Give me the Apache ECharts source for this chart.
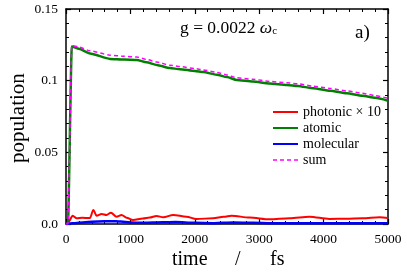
<!DOCTYPE html>
<html>
<head>
<meta charset="utf-8">
<script src="https://cdn.jsdelivr.net/npm/echarts@6/dist/echarts.min.js"></script>
<style>html,body{margin:0;padding:0;background:#fff}#c{width:407px;height:272px}</style>
</head>
<body>
<div id="c"></div>
<script>
// ---- data ----
var xTicks = [0, 1000, 2000, 3000, 4000, 5000];
var yTickLabels = ['0.0', '0.05', '0.1', '0.15'];
var seriesNames = ['photonic \u00d7 10', 'atomic', 'molecular', 'sum'];

var photonicT = [0, 40, 103, 166, 250, 372, 424, 475, 553, 630, 698, 785, 863, 940, 1040, 1195, 1300, 1405, 1510, 1665, 1870, 2025, 2285, 2450, 2570, 2850, 3160, 3470, 3780, 4090, 4350, 4600, 4870, 5000];
var photonicV = [0, 0.0015, 0.0058, 0.004, 0.0043, 0.0042, 0.0098, 0.0058, 0.007, 0.0063, 0.0079, 0.0051, 0.0063, 0.0044, 0.0028, 0.0038, 0.0045, 0.0056, 0.0047, 0.0063, 0.0051, 0.0035, 0.004, 0.005, 0.0058, 0.0045, 0.0033, 0.004, 0.0051, 0.0035, 0.0037, 0.004, 0.0047, 0.0042];

var atomicT = [0, 30, 90, 200, 372, 683, 900, 1100, 1250, 1410, 1613, 1770, 2000, 2130, 2340, 2500, 2650, 2900, 3160, 3430, 3600, 3840, 4100, 4360, 4600, 4800, 5000];
var atomicV = [0, 0.0, 0.1238, 0.1222, 0.119, 0.1152, 0.1148, 0.1145, 0.1128, 0.111, 0.1088, 0.108, 0.1068, 0.106, 0.1042, 0.1025, 0.1005, 0.0995, 0.098, 0.097, 0.0963, 0.0947, 0.093, 0.0912, 0.0895, 0.088, 0.086];

var molecularT = [0, 100, 300, 500, 700, 850, 1000, 1200, 1500, 1700, 2000, 2300, 2600, 2900, 3200, 3600, 4000, 4500, 5000];
var molecularV = [0, 0.0005, 0.0013, 0.0018, 0.002, 0.0017, 0.0011, 0.0008, 0.0012, 0.0014, 0.0008, 0.0006, 0.001, 0.0008, 0.0005, 0.0006, 0.0005, 0.0006, 0.0005];

var sumT = [0, 30, 90, 200, 372, 683, 900, 1100, 1250, 1410, 1613, 1770, 2000, 2130, 2340, 2500, 2650, 2900, 3160, 3430, 3600, 3840, 4100, 4360, 4600, 4800, 5000];
var sumV = [0, 0.0, 0.1245, 0.1235, 0.1208, 0.1178, 0.117, 0.1165, 0.1148, 0.113, 0.1108, 0.1098, 0.1085, 0.1075, 0.1058, 0.104, 0.102, 0.101, 0.0995, 0.0985, 0.0978, 0.0962, 0.0946, 0.0928, 0.0912, 0.0896, 0.0877];

function zip(t, v) { return t.map(function (x, i) { return [x, v[i]]; }); }

var FONT = 'Liberation Serif';
var chart = echarts.init(document.getElementById('c'), null, {renderer: 'canvas'});

function xAx(pos, show) {
  return {
    type: 'value', position: pos, min: xTicks[0], max: xTicks[xTicks.length - 1], interval: 1000,
    axisLine: {show: true, onZero: false, lineStyle: {color: '#000', width: 1.5}},
    axisTick: {show: true, inside: true, length: 5, lineStyle: {color: '#000', width: 1.2}},
    minorTick: {show: true, splitNumber: 5, length: 3, lineStyle: {color: '#000', width: 1}},
    splitLine: {show: false},
    axisLabel: {show: show, color: '#000', fontFamily: FONT, fontSize: 13.5, margin: 8,
      formatter: function (v) { return String(v); }}
  };
}
function yAx(pos, show) {
  return {
    type: 'value', position: pos, min: 0, max: 0.15, interval: 0.05,
    axisLine: {show: true, onZero: false, lineStyle: {color: '#000', width: 1.5}},
    axisTick: {show: true, inside: true, length: 5, lineStyle: {color: '#000', width: 1.2}},
    minorTick: {show: true, splitNumber: 5, length: 3, lineStyle: {color: '#000', width: 1}},
    splitLine: {show: false},
    axisLabel: {show: show, color: '#000', fontFamily: FONT, fontSize: 13.5, margin: 8,
      formatter: function (v) { return yTickLabels[Math.round(v / 0.05)]; }}
  };
}

var colors = ['#ff0000', '#008000', '#0000ff', '#ff00ff'];

chart.setOption({
  animation: false,
  backgroundColor: '#fff',
  grid: {left: 66, right: 19, top: 9, bottom: 48, containLabel: false},
  xAxis: [xAx('bottom', true), xAx('top', false)],
  yAxis: [yAx('left', true), yAx('right', false)],
  legend: {
    orient: 'vertical', left: 267, top: 100, itemWidth: 25, itemHeight: 14, itemGap: 2,
    textStyle: {fontFamily: FONT, fontSize: 14, color: '#000'},
    itemStyle: {opacity: 0},
    data: [
      {name: seriesNames[0]},
      {name: seriesNames[1]},
      {name: seriesNames[2]},
      {name: seriesNames[3], lineStyle: {type: [4, 3], width: 1.5, color: colors[3]}}
    ]
  },
  graphic: [
    {type: 'text', left: 180, top: 19, style: {
      text: '{a|g = 0.0022 }{w|\u03c9}{s|c}',
      rich: {
        a: {fontFamily: FONT, fontSize: 17.5, fill: '#000', verticalAlign: 'bottom', lineHeight: 20},
        w: {fontFamily: FONT, fontSize: 17.5, fontStyle: 'italic', fill: '#000', verticalAlign: 'bottom', lineHeight: 20},
        s: {fontFamily: FONT, fontSize: 11, fill: '#000', verticalAlign: 'bottom', lineHeight: 14}
      }
    }},
    {type: 'text', left: 355, top: 24, style: {text: 'a)', font: '19px "Liberation Serif"', fill: '#000'}},
    {type: 'text', left: 172, top: 250, style: {text: 'time', font: '20px "Liberation Serif"', fill: '#000'}},
    {type: 'text', left: 235, top: 250, style: {text: '/', font: '20px "Liberation Serif"', fill: '#000'}},
    {type: 'text', left: 270, top: 250, style: {text: 'fs', font: '20px "Liberation Serif"', fill: '#000'}},
    {type: 'text', x: 8, y: 163, rotation: Math.PI / 2, style: {text: 'population', font: '21px "Liberation Serif"', fill: '#000'}}
  ],
  series: [
    {name: seriesNames[0], type: 'line', data: zip(photonicT, photonicV), showSymbol: false, symbol: 'none', smooth: 0.3, smoothMonotone: 'x',
      lineStyle: {color: colors[0], width: 2}, itemStyle: {color: colors[0]}},
    {name: seriesNames[1], type: 'line', data: zip(atomicT, atomicV), showSymbol: false, symbol: 'none', smooth: 0.2, smoothMonotone: 'x',
      lineStyle: {color: colors[1], width: 2.5}, itemStyle: {color: colors[1]}},
    {name: seriesNames[2], type: 'line', data: zip(molecularT, molecularV), showSymbol: false, symbol: 'none', smooth: 0.3, smoothMonotone: 'x',
      lineStyle: {color: colors[2], width: 2.5}, itemStyle: {color: colors[2]}},
    {name: seriesNames[3], type: 'line', data: zip(sumT, sumV), showSymbol: false, symbol: 'none', smooth: 0.2, smoothMonotone: 'x',
      lineStyle: {color: colors[3], width: 1.5, type: [4, 3]}, itemStyle: {color: colors[3]}}
  ]
});
</script>
</body>
</html>
